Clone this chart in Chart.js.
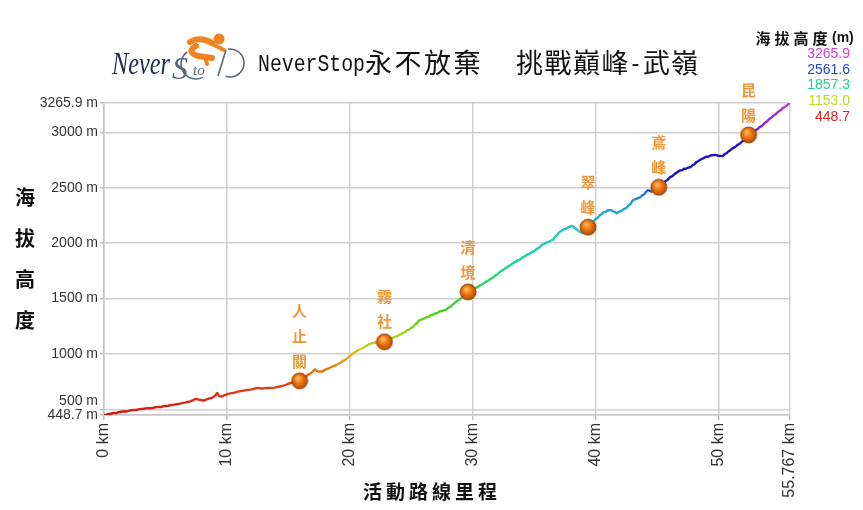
<!DOCTYPE html>
<html><head><meta charset="utf-8">
<script src="https://cdn.jsdelivr.net/npm/chart.js@4.4.0/dist/chart.umd.min.js"></script>
<style>html,body{margin:0;padding:0;background:#fff}#wrap{width:863px;height:510px;position:relative}</style>
</head><body><div id="wrap"><canvas id="c" width="863" height="510"></canvas></div>
<script>
// ---- data ----
const distKm = [0.0,0.2,0.4,0.6,0.8,1.0,1.2,1.4,1.6,1.8,2.0,2.2,2.4,2.6,2.8,3.0,3.2,3.4,3.6,3.8,4.0,4.2,4.4,4.6,4.8,5.0,5.2,5.4,5.6,5.8,6.0,6.2,6.4,6.6,6.8,7.0,7.2,7.4,7.5,7.7,7.9,8.1,8.3,8.5,8.7,8.9,9.05,9.2,9.35,9.5,9.65,9.8,10.0,10.2,10.4,10.6,10.8,11.0,11.2,11.4,11.6,11.8,12.0,12.2,12.5,12.7,12.9,13.1,13.3,13.6,13.9,14.1,14.3,14.5,14.7,14.9,15.1,15.3,15.5,15.7,15.9,16.1,16.3,16.45,16.6,16.75,16.9,17.05,17.15,17.3,17.45,17.6,17.7,17.9,18.1,18.3,18.5,18.7,18.9,19.1,19.3,19.5,19.7,19.85,20.0,20.15,20.3,20.5,20.7,20.85,21.0,21.2,21.4,21.6,21.8,22.0,22.2,22.5,22.8,23.0,23.2,23.45,23.7,23.9,24.1,24.3,24.45,24.6,24.8,25.0,25.15,25.3,25.5,25.6,25.7,25.85,26.0,26.2,26.4,26.55,26.7,26.9,27.1,27.3,27.5,27.65,27.8,28.0,28.2,28.35,28.5,28.7,28.9,29.05,29.2,29.4,29.6,29.8,30.0,30.2,30.4,30.6,30.8,31.0,31.2,31.4,31.6,31.8,32.0,32.2,32.4,32.55,32.7,32.9,33.1,33.3,33.5,33.65,33.8,34.0,34.2,34.4,34.6,34.8,35.0,35.2,35.4,35.6,35.8,35.95,36.1,36.3,36.5,36.65,36.8,37.0,37.2,37.4,37.6,37.8,38.0,38.15,38.3,38.45,38.6,38.75,38.9,39.1,39.35,39.6,39.8,39.95,40.1,40.3,40.5,40.65,40.8,40.95,41.1,41.25,41.4,41.55,41.7,41.9,42.1,42.3,42.5,42.65,42.8,42.9,43.0,43.15,43.3,43.45,43.6,43.75,43.9,44.05,44.2,44.35,44.5,44.8,45.1,45.3,45.5,45.65,45.8,46.0,46.2,46.4,46.6,46.8,47.0,47.15,47.3,47.5,47.7,47.85,48.0,48.15,48.3,48.5,48.7,48.9,49.1,49.3,49.5,49.7,49.9,50.1,50.3,50.45,50.6,50.75,50.9,51.1,51.3,51.5,51.7,51.85,52.0,52.2,52.4,52.6,52.8,52.95,53.1,53.3,53.5,53.7,53.9,54.05,54.2,54.4,54.6,54.8,55.0,55.2,55.4,55.6,55.767];
const elevM = [448.7,452,458,462,468,466,474,478,482,480,486,492,495,494,499,503,505,508,511,510,514,519,522,521,526,530,532,537,540,545,548,552,558,560,566,572,580,592,594,588,584,578,588,596,601,612,625,648,622,615,620,628,636,642,646,650,657,662,667,670,674,676,680,686,694,690,688,691,692,694,696,702,706,711,718,726,736,741,746,750,757,772,788,800,812,822,835,850,862,846,842,841,840,852,864,872,884,892,902,914,926,940,955,968,985,996,1010,1022,1036,1043,1052,1064,1078,1088,1098,1101,1104,1108,1110,1122,1132,1146,1154,1166,1176,1190,1196,1212,1220,1238,1246,1266,1286,1302,1305,1314,1318,1332,1335,1350,1352,1364,1370,1385,1388,1396,1398,1418,1428,1446,1460,1478,1490,1506,1520,1542,1560,1572,1582,1596,1606,1622,1630,1648,1660,1676,1688,1707,1720,1742,1755,1768,1778,1794,1806,1824,1834,1846,1852,1870,1880,1896,1905,1920,1930,1950,1962,1984,1996,2006,2008,2022,2032,2054,2070,2098,2112,2128,2132,2146,2155,2150,2135,2124,2108,2100,2090,2110,2144,2180,2198,2218,2226,2252,2266,2282,2285,2298,2298,2298,2288,2282,2270,2286,2295,2310,2322,2342,2352,2374,2388,2396,2400,2410,2415,2432,2440,2462,2478,2474,2465,2488,2505,2530,2545,2560,2570,2594,2605,2626,2640,2656,2660,2672,2672,2682,2688,2704,2712,2732,2740,2756,2766,2778,2780,2792,2795,2797,2790,2788,2786,2804,2812,2828,2838,2856,2868,2888,2900,2916,2928,2956,2975,2994,3005,3020,3028,3048,3060,3084,3100,3118,3130,3150,3165,3186,3200,3222,3235,3254,3265.9];
const markerKm = [15.9,22.8,29.6,39.35,45.1,52.4];
const markerElev = [757,1110,1560,2144,2505,2978];
const markerNames = ['人止關','霧社','清境','翠峰','鳶峰','昆陽'];
const xTicks = [0,10,20,30,40,50,55.767];
const yTicks = [448.7,500,1000,1500,2000,2500,3000,3265.9];
const legendValues = [3265.9,2561.6,1857.3,1153.0,448.7];
const legendColors = ['#d03ee0','#2448d0','#22d488','#b8e01c','#d42222'];
const yTitle = '海拔高度';
const legendTitle = '海拔高度';
const xTitle = '活動路線里程';
const elevMin = 448.7, elevMax = 3265.9, distMax = 55.767;

// ball image for markers
const ball = document.createElement('canvas');
ball.width = 18; ball.height = 18;
(function(){
  const b = ball.getContext('2d');
  const g = b.createRadialGradient(7,6,1,9,9,9);
  g.addColorStop(0,'#ffb45a'); g.addColorStop(0.45,'#ec750e'); g.addColorStop(1,'#a54400');
  b.beginPath(); b.arc(9,9,8,0,Math.PI*2); b.fillStyle=g; b.fill();
  b.lineWidth=0.8; b.strokeStyle='#8a3a00'; b.stroke();
})();

function fmtY(v){ return (Number.isInteger(v)? String(v) : v.toFixed(1)) + ' m'; }
function fmtX(v){ return v + ' km'; }

const decoPlugin = {
  id:'deco',
  afterDraw(chart){
    const {ctx, chartArea, scales} = chart;
    const ys = scales.y;
    ctx.save();
    // y tick labels
    ctx.font = '14px "Liberation Sans", Arial, sans-serif';
    ctx.fillStyle = '#333'; ctx.textAlign='right'; ctx.textBaseline='middle';
    yTicks.forEach(v=>{
      let py = ys.getPixelForValue(v);
      if (v===500) py -= 8;
      ctx.fillText(fmtY(v), chartArea.left-6, py);
    });
    // y title stacked
    ctx.font = 'bold 20px "Noto Sans CJK TC", sans-serif';
    ctx.fillStyle = '#111'; ctx.textAlign='center';
    const cy = (chartArea.top+chartArea.bottom)/2;
    const chars = Array.from(yTitle);
    chars.forEach((ch,i)=>{ ctx.fillText(ch, 25, cy + (i-(chars.length-1)/2)*41); });
    // x title
    ctx.font = 'bold 19px "Noto Sans CJK TC", sans-serif';
    let xt = Array.from(xTitle); const adv = 23;
    xt.forEach((ch,i)=>{ ctx.fillText(ch, 430 + (i-(xt.length-1)/2)*adv, 492); });
    // marker labels
    const meta = chart.getDatasetMeta(0);
    ctx.font = 'bold 15px "Noto Sans CJK TC", sans-serif';
    ctx.fillStyle = '#ef9638';
    meta.data.forEach((pt,i)=>{
      const cs = Array.from(markerNames[i]);
      cs.forEach((ch,j)=>{
        ctx.fillText(ch, pt.x, pt.y - 20 - (cs.length-1-j)*25);
      });
    });
    // legend
    ctx.textAlign='center';
    ctx.font = 'bold 15px "Noto Sans CJK TC", sans-serif';
    ctx.fillStyle = '#111';
    Array.from(legendTitle).forEach((ch,i)=>ctx.fillText(ch, 763 + i*19, 38));
    ctx.textAlign='left';
    ctx.font = 'bold 14px "Liberation Sans", Arial, sans-serif';
    ctx.fillText('(m)', 832, 38);
    ctx.textAlign='right';
    ctx.font = '14px "Liberation Sans", Arial, sans-serif';
    legendValues.forEach((v,i)=>{
      ctx.fillStyle = legendColors[i];
      ctx.fillText(v.toFixed(1), 850, 54 + i*15.8);
    });
    // title text
    ctx.fillStyle = '#111'; ctx.textAlign='left'; ctx.textBaseline='alphabetic';
    ctx.font = '24px "Liberation Mono", monospace';
    ctx.fillText('NeverStop', 258, 71, 107);
    ctx.textBaseline='middle';
    ctx.font = '27px "Noto Sans CJK TC", sans-serif';
    const segs = [['永不放棄',365,29.5],['挑戰巔峰',516,28.5],['武嶺',643,28]];
    segs.forEach(([s,x0,a])=>{ Array.from(s).forEach((ch,i)=>ctx.fillText(ch, x0+i*a, 63)); });
    ctx.font = '24px "Liberation Mono", monospace';
    ctx.textBaseline='alphabetic';
    ctx.fillText('-', 629, 71, 13);
    // logo
    ctx.fillStyle = '#1d2b4d';
    ctx.font = 'italic 31px "Liberation Serif", serif';
    ctx.fillText('Never', 112, 74, 58);
    ctx.fillStyle = '#5b6679';
    ctx.font = 'italic 32px "Liberation Serif", serif';
    ctx.fillText('S', 172, 79);
    ctx.font = 'italic 15px "Liberation Serif", serif';
    ctx.fillText('to', 193, 75);
    ctx.strokeStyle = '#5b6679'; ctx.lineWidth = 1.6;
    ctx.beginPath(); ctx.arc(230, 63, 14, -Math.PI*0.55, Math.PI*0.6); ctx.stroke();
    ctx.beginPath(); ctx.moveTo(226,50); ctx.lineTo(218,76); ctx.stroke();
    ctx.beginPath(); ctx.arc(196, 64, 15, Math.PI*0.35, Math.PI*1.3); ctx.stroke();
    // cyclist
    ctx.fillStyle = '#f08222'; ctx.strokeStyle = '#f08222';
    ctx.beginPath(); ctx.arc(219, 39, 5.5, 0, Math.PI*2); ctx.fill();
    ctx.lineWidth = 6; ctx.lineCap='round';
    ctx.beginPath(); ctx.moveTo(190,42); ctx.quadraticCurveTo(200,36,212,43); ctx.stroke();
    ctx.beginPath(); ctx.moveTo(196,46); ctx.quadraticCurveTo(186,52,198,56); ctx.lineTo(212,58); ctx.stroke();
    ctx.lineWidth = 4;
    ctx.beginPath(); ctx.moveTo(212,44); ctx.lineTo(224,50); ctx.stroke();
    ctx.beginPath(); ctx.moveTo(205,56); ctx.lineTo(207,64); ctx.stroke();
    ctx.restore();
  }
};

function elevGradient(context){
  const chart = context.chart;
  const {ctx, chartArea, scales} = chart;
  if (!chartArea) return '#d42222';
  const y0 = scales.y.getPixelForValue(elevMin), y1 = scales.y.getPixelForValue(elevMax);
  const g = ctx.createLinearGradient(0,y0,0,y1);
  g.addColorStop(0.00,'#d01414');
  g.addColorStop(0.10,'#dc4a14');
  g.addColorStop(0.16,'#e08a1c');
  g.addColorStop(0.21,'#d8c820');
  g.addColorStop(0.26,'#98d820');
  g.addColorStop(0.33,'#48d020');
  g.addColorStop(0.48,'#1ed48a');
  g.addColorStop(0.58,'#20c8c8');
  g.addColorStop(0.68,'#2298d6');
  g.addColorStop(0.735,'#1c58cc');
  g.addColorStop(0.755,'#1414c0');
  g.addColorStop(0.86,'#1a10bc');
  g.addColorStop(0.92,'#6a20d0');
  g.addColorStop(1.00,'#c83ce0');
  return g;
}

const lineData = distKm.map((d,i)=>({x:d, y:elevM[i]}));
const markerData = markerKm.map((d,i)=>({x:d, y:markerElev[i]}));

new Chart(document.getElementById('c'), {
  type:'line',
  data:{ datasets:[
    { type:'scatter', data:markerData, pointStyle:ball, pointRadius:9, order:0, showLine:false },
    { data:lineData, borderColor:elevGradient, borderWidth:2.4, pointRadius:0, tension:0, order:1, borderJoinStyle:'round' }
  ]},
  options:{
    responsive:false, animation:false, devicePixelRatio:1,
    layout:{ padding:{ left:0, right:73, top:103, bottom:0 } },
    plugins:{ legend:{display:false}, tooltip:{enabled:false} },
    scales:{
      x:{ type:'linear', min:0, max:distMax,
        afterBuildTicks(s){ s.ticks = xTicks.map(v=>({value:v})); },
        afterFit(s){ s.height = 95; },
        ticks:{ autoSkip:false, minRotation:90, maxRotation:90, padding:3, color:'#333',
          font:{ family:'"Liberation Sans", Arial, sans-serif', size:16 },
          callback:(v)=>fmtX(v) },
        grid:{ color:'#d0d0d0', lineWidth:1.5, tickLength:5, tickColor:'#c0c0c0' },
        border:{ color:'#c4c4c4', width:1.5 }
      },
      y:{ type:'linear', min:elevMin, max:elevMax,
        afterBuildTicks(s){ s.ticks = yTicks.map(v=>({value:v})); },
        afterFit(s){ s.width = 104; },
        ticks:{ display:false },
        grid:{ color:'#d0d0d0', lineWidth:1.5, tickLength:4, tickColor:'#c0c0c0' },
        border:{ color:'#c4c4c4', width:1.5 }
      }
    }
  },
  plugins:[decoPlugin]
});
</script></body></html>
